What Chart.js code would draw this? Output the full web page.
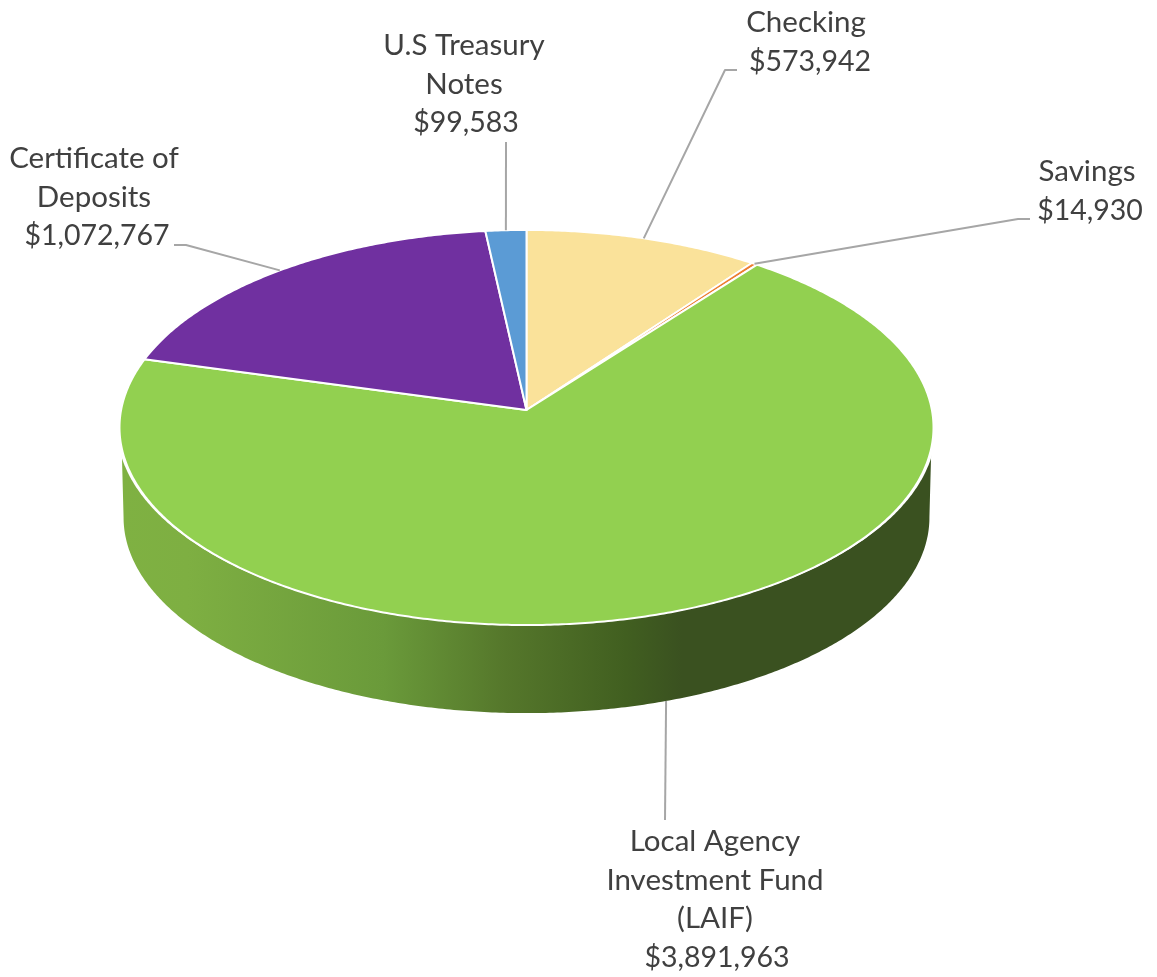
<!DOCTYPE html>
<html>
<head>
<meta charset="utf-8">
<title>Investments by type</title>
<script src="https://cdn.jsdelivr.net/npm/chart.js@4/dist/chart.umd.min.js"></script>
<style>
  html, body { margin: 0; padding: 0; background: #fff; }
  canvas { display: block; }
</style>
</head>
<body>
<canvas id="fundsPie" width="1157" height="977"></canvas>
<script>
const categories = [
  "Checking",
  "Savings",
  "Local Agency Investment Fund (LAIF)",
  "Certificate of Deposits",
  "U.S Treasury Notes",
];
const balances = [573942, 14930, 3891963, 1072767, 99583];
const sliceColors = ["#FAE29A", "#ED7D31", "#92D050", "#7030A0", "#5B9BD5"];

// wrapped category names, same order as categories
const nameLines = [
  ["Checking"],
  ["Savings"],
  ["Local Agency", "Investment Fund", "(LAIF)"],
  ["Certificate of", "Deposits"],
  ["U.S Treasury", "Notes"],
];

// label placement: centre x, first baseline, small nudge for the amount line
const labelSpots = [
  { x: 806, y: 32, amountDx: 4 },
  { x: 1087, y: 181, amountDx: 3 },
  { x: 715, y: 851, amountDx: 2 },
  { x: 94, y: 168, amountDx: 3 },
  { x: 464, y: 55, amountDx: 2 },
];
const LINE_HEIGHT = 38.6;

// leader line points after the point on the slice edge
const leaderRoutes = [
  [[725, 70], [737, 70]],
  [[1018, 219], [1030, 219]],
  [[665, 820]],
  [[186, 245], [174, 245]],
  [[506, 142]],
];
const leaderFromBase = [false, false, true, false, false];

// tilted disc, perspective divide makes the near side bigger
const CX = 526.5;
const TOP_Y = 410;
const BASE_Y = 500.2;
const BASE_SCALE = 0.99;
const RX = 405.4;
const RY = 196;
const TILT = -0.0886;
const DEG = Math.PI / 180;

function project(theta, onBase, extraX = 0) {
  const u = Math.sin(theta);
  const v = -Math.cos(theta);
  const w = 1 + TILT * v;
  const s = onBase ? BASE_SCALE : 1;
  return {
    x: CX + (s * (RX + extraX) * u) / w,
    y: (onBase ? BASE_Y : TOP_Y) + (s * RY * v) / w,
  };
}

// chart.js arcs start at -90deg, the disc uses 0 at twelve o'clock
function arcAngles(arc) {
  return [arc.startAngle + Math.PI / 2, arc.endAngle + Math.PI / 2];
}

function traceEdge(ctx, from, to, onBase, extraX = 0) {
  const steps = Math.max(2, Math.ceil(Math.abs(to - from) / (0.5 * DEG)));
  for (let i = 0; i <= steps; i++) {
    const p = project(from + ((to - from) * i) / steps, onBase, extraX);
    ctx.lineTo(p.x, p.y);
  }
}

function drawWall(ctx, arc) {
  const [start, end] = arcAngles(arc);
  const from = Math.max(start, 101 * DEG);
  const to = Math.min(end, 259 * DEG);
  if (from >= to) return;

  const shade = ctx.createLinearGradient(120, 0, 682, 0);
  shade.addColorStop(0, "#7FB142");
  shade.addColorStop(0.12, "#7EAF42");
  shade.addColorStop(0.47, "#6A9A3A");
  shade.addColorStop(0.685, "#55772B");
  shade.addColorStop(0.9, "#415F20");
  shade.addColorStop(1, "#3A5120");

  ctx.beginPath();
  traceEdge(ctx, from, to, false);
  traceEdge(ctx, to + 6 * DEG, from - 6 * DEG, true);
  ctx.closePath();
  ctx.fillStyle = shade;
  ctx.fill();
}

// white gap between face and wall, wider towards the sides
function drawRimGap(ctx) {
  ctx.beginPath();
  traceEdge(ctx, 0, 2 * Math.PI, false, 2.5);
  ctx.closePath();
  ctx.fillStyle = "#FFFFFF";
  ctx.fill();
}

function drawTop(ctx, arc) {
  const [start, end] = arcAngles(arc);
  ctx.beginPath();
  ctx.moveTo(CX, TOP_Y);
  traceEdge(ctx, start, end, false);
  ctx.closePath();
  ctx.fillStyle = arc.options.backgroundColor;
  ctx.fill();
  ctx.lineJoin = "round";
  ctx.lineWidth = arc.options.borderWidth;
  ctx.strokeStyle = arc.options.borderColor;
  ctx.stroke();
}

const tiltedPie = {
  id: "tiltedPie",
  beforeDatasetDraw(chart, args) {
    const ctx = chart.ctx;
    args.meta.data.forEach((arc) => drawWall(ctx, arc));
    drawRimGap(ctx);
    args.meta.data.forEach((arc) => drawTop(ctx, arc));
    return false; // flat arcs are replaced by the tilted ones
  },
  afterDraw(chart) {
    const ctx = chart.ctx;
    const arcs = chart.getDatasetMeta(0).data;

    ctx.save();
    ctx.strokeStyle = "#A6A6A6";
    ctx.lineWidth = 2;
    ctx.lineJoin = "round";
    arcs.forEach((arc, i) => {
      const [start, end] = arcAngles(arc);
      const p = project((start + end) / 2, leaderFromBase[i]);
      ctx.beginPath();
      ctx.moveTo(p.x, p.y);
      leaderRoutes[i].forEach((pt) => ctx.lineTo(pt[0], pt[1]));
      ctx.stroke();
    });

    ctx.fillStyle = "#404040";
    ctx.textAlign = "center";
    ctx.textBaseline = "alphabetic";
    labelSpots.forEach((spot, i) => {
      ctx.font = '29.5px "Lato"';
      nameLines[i].forEach((line, n) => {
        ctx.fillText(line, spot.x, spot.y + n * LINE_HEIGHT);
      });
      ctx.font = '28.5px "Lato"';
      const amount = "$" + balances[i].toLocaleString("en-US");
      ctx.fillText(amount, spot.x + spot.amountDx, spot.y + nameLines[i].length * LINE_HEIGHT);
    });
    ctx.restore();
  },
};

new Chart(document.getElementById("fundsPie"), {
  type: "pie",
  data: {
    labels: categories,
    datasets: [
      {
        data: balances,
        backgroundColor: sliceColors,
        borderColor: "#FFFFFF",
        borderWidth: 2,
      },
    ],
  },
  options: {
    responsive: false,
    animation: false,
    plugins: {
      legend: { display: false },
      tooltip: { enabled: false },
    },
  },
  plugins: [tiltedPie],
});
</script>
</body>
</html>
